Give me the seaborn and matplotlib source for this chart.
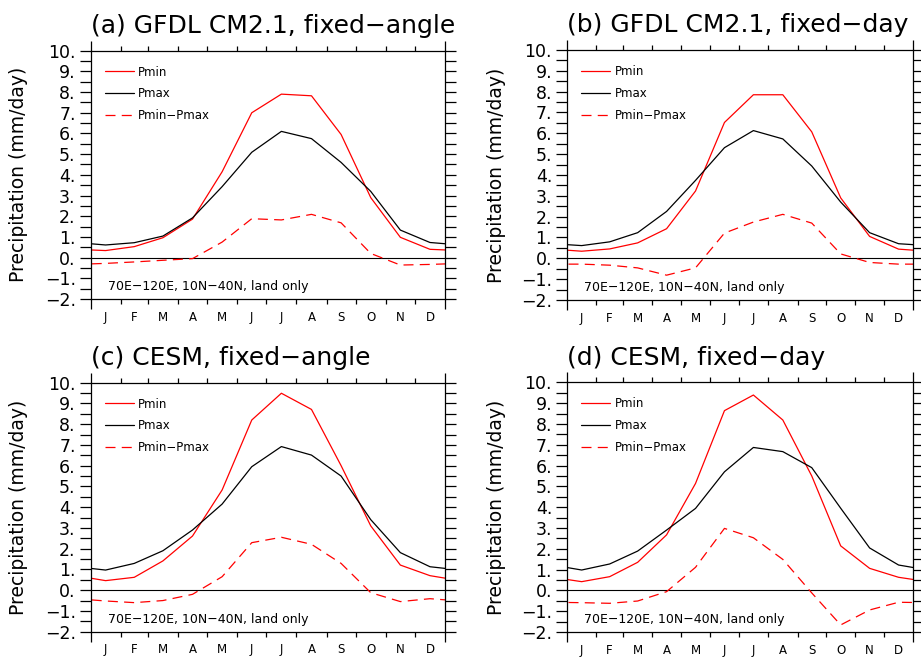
import pandas as pd
import matplotlib
matplotlib.use('Agg')
import matplotlib.pyplot as plt
import seaborn as sns
from matplotlib.ticker import FixedLocator, MultipleLocator, FuncFormatter

# months: labels, first day of each month and mid-month day (day of year)
month_labels = ['J', 'F', 'M', 'A', 'M', 'J', 'J', 'A', 'S', 'O', 'N', 'D']
month_start = [0, 31, 59, 90, 120, 151, 181, 212, 243, 273, 304, 334, 365]
month_mid = [15.5, 45, 74.5, 105, 135.5, 166, 196.5, 227.5, 258, 288.5, 319, 349.5]

titles = ['(a) GFDL CM2.1, fixed\u2212angle', '(b) GFDL CM2.1, fixed\u2212day',
          '(c) CESM, fixed\u2212angle', '(d) CESM, fixed\u2212day']

# (a) GFDL CM2.1, fixed-angle
pmin_a = [0.34, 0.53, 0.96, 1.86, 4.15, 7.0, 7.9, 7.82, 5.95, 2.9, 0.98, 0.40]
pmax_a = [0.61, 0.72, 1.04, 1.92, 3.43, 5.09, 6.1, 5.75, 4.6, 3.2, 1.33, 0.73]
diff_a = [-0.28, -0.21, -0.13, -0.05, 0.75, 1.88, 1.82, 2.09, 1.68, 0.2, -0.36, -0.33]

# (b) GFDL CM2.1, fixed-day
pmin_b = [0.34, 0.45, 0.74, 1.42, 3.23, 6.52, 7.85, 7.85, 6.07, 2.9, 1.05, 0.44]
pmax_b = [0.61, 0.79, 1.23, 2.25, 3.74, 5.31, 6.13, 5.73, 4.43, 2.7, 1.23, 0.7]
diff_b = [-0.28, -0.33, -0.46, -0.81, -0.46, 1.21, 1.74, 2.11, 1.69, 0.21, -0.2, -0.28]

# (c) CESM, fixed-angle
pmin_c = [0.46, 0.62, 1.41, 2.61, 4.83, 8.2, 9.49, 8.71, 6.0, 3.1, 1.21, 0.7]
pmax_c = [0.97, 1.29, 1.9, 2.9, 4.15, 5.95, 6.92, 6.51, 5.5, 3.4, 1.81, 1.13]
diff_c = [-0.52, -0.6, -0.5, -0.2, 0.65, 2.29, 2.55, 2.21, 1.29, -0.12, -0.55, -0.41]

# (d) CESM, fixed-day
pmin_d = [0.42, 0.66, 1.35, 2.67, 5.14, 8.64, 9.39, 8.19, 5.5, 2.14, 1.06, 0.63]
pmax_d = [0.98, 1.27, 1.89, 2.9, 3.94, 5.7, 6.87, 6.67, 5.9, 3.95, 2.04, 1.22]
diff_d = [-0.59, -0.62, -0.51, -0.06, 1.11, 2.98, 2.53, 1.49, -0.12, -1.66, -0.94, -0.57]

y_major = list(range(-2, 11))

sns.set_style('ticks')
plt.rcParams['font.family'] = ['DejaVu Sans']
plt.rcParams.update({'text.color': 'black', 'axes.labelcolor': 'black',
                     'xtick.color': 'black', 'ytick.color': 'black'})

fig = plt.figure(figsize=(9.21, 6.6), dpi=100)
boxes = [[0.0983, 0.5470, 0.3849, 0.3762],
         [0.6156, 0.5455, 0.3760, 0.3788],
         [0.0983, 0.0429, 0.3849, 0.3773],
         [0.6156, 0.0424, 0.3760, 0.3783]]


def cyclic(vals):
    # wrap Dec before Jan and Jan after Dec so the curves reach the box edges
    return [vals[-1]] + list(vals) + [vals[0]]


x_ext = [month_mid[-1] - 365] + month_mid + [month_mid[0] + 365]

panels = zip(boxes, titles, [pmin_a, pmin_b, pmin_c, pmin_d],
             [pmax_a, pmax_b, pmax_c, pmax_d], [diff_a, diff_b, diff_c, diff_d])

for box, title, pmin, pmax, diff in panels:
    ax = fig.add_axes(box)
    ax.axhline(0, color='black', lw=0.8, zorder=1)

    df = pd.DataFrame({'day': x_ext, 'pmin': cyclic(pmin),
                       'pmax': cyclic(pmax), 'diff': cyclic(diff)})
    sns.lineplot(data=df, x='day', y='pmin', color='red', lw=0.9, label='Pmin', ax=ax)
    sns.lineplot(data=df, x='day', y='pmax', color='black', lw=0.9, label='Pmax', ax=ax)
    sns.lineplot(data=df, x='day', y='diff', color='red', lw=0.9, label='Pmin\u2212Pmax', ax=ax)
    ax.lines[-1].set_dashes([8, 5])

    ax.set_xlim(0, 365)
    ax.set_ylim(-2, 10)

    # y axis: labelled integers, ticks every 0.5 on both sides
    ax.yaxis.set_major_locator(FixedLocator(y_major))
    ax.yaxis.set_minor_locator(MultipleLocator(0.5))
    ax.yaxis.set_major_formatter(FuncFormatter(lambda v, p: f'{v:.0f}.'.replace('-', '\u2212')))
    ax.tick_params(axis='y', which='both', direction='out', length=7.7, width=0.9,
                   left=True, right=True, labelsize=12.5, pad=3)

    # x axis: ticks at month boundaries, longer ones at the ends
    ax.set_xticks([0, 365])
    ax.set_xticks(month_start[1:-1], minor=True)
    ax.tick_params(axis='x', which='major', direction='out', length=7.2, width=0.9,
                   top=True, bottom=True, labelbottom=False)
    ax.tick_params(axis='x', which='minor', direction='out', length=3.6, width=0.9,
                   top=True, bottom=True)
    sec = ax.secondary_xaxis('bottom')
    sec.set_xticks(month_mid, month_labels)
    sec.tick_params(length=0, pad=8.5, labelsize=8.5)
    sec.spines['bottom'].set_visible(False)

    for sp in ax.spines.values():
        sp.set_linewidth(0.9)
        sp.set_color('black')

    ax.set_xlabel('')
    ax.set_ylabel('Precipitation (mm/day)', fontsize=13.5)
    ax.yaxis.set_label_coords(-0.175, 0.5)

    ax.text(0.0, 1.07, title, transform=ax.transAxes, fontsize=18,
            ha='left', va='baseline')
    ax.text(0.05, 0.05, '70E\u2212120E, 10N\u221240N, land only', transform=ax.transAxes,
            fontsize=9, ha='left', va='center')

    ax.legend(loc='upper left', bbox_to_anchor=(0.04, 0.94), frameon=False,
              fontsize=8.5, handlelength=2.5, handletextpad=0.35,
              labelspacing=0.75, borderaxespad=0, borderpad=0)

fig.savefig('out.png', dpi=100)
